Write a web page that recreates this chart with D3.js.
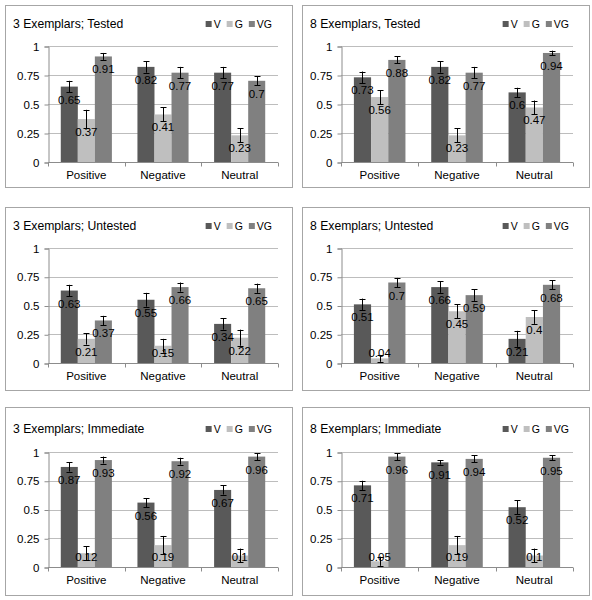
<!DOCTYPE html>
<html><head><meta charset="utf-8">
<script src="https://cdn.jsdelivr.net/npm/d3@7"></script>
<style>
html,body{margin:0;padding:0;background:#fff;}
svg{display:block;font-family:Arial,"Liberation Sans",sans-serif;}
</style></head>
<body>
<svg id="chart" width="592" height="600"></svg>
<script>
const categories = ["Positive", "Negative", "Neutral"];
const seriesNames = ["V", "G", "VG"];
const yTicks = [0, 0.25, 0.5, 0.75, 1];
const tickLabels = ["0", "0.25", "0.5", "0.75", "1"];
const panelTitles = [
  "3 Exemplars; Tested", "8 Exemplars, Tested",
  "3 Exemplars; Untested", "8 Exemplars; Untested",
  "3 Exemplars; Immediate", "8 Exemplars; Immediate"
];
// values[panel][category]
const valuesV  = [[0.65,0.82,0.77],[0.73,0.82,0.60],[0.63,0.55,0.34],[0.51,0.66,0.21],[0.87,0.56,0.67],[0.71,0.91,0.52]];
const valuesG  = [[0.37,0.41,0.23],[0.56,0.23,0.47],[0.21,0.15,0.22],[0.04,0.45,0.40],[0.12,0.19,0.10],[0.05,0.19,0.10]];
const valuesVG = [[0.91,0.77,0.70],[0.88,0.77,0.94],[0.37,0.66,0.65],[0.70,0.59,0.68],[0.93,0.92,0.96],[0.96,0.94,0.95]];
// error bar half-widths
const errV  = [[0.05,0.05,0.05],[0.05,0.05,0.04],[0.05,0.06,0.05],[0.05,0.05,0.07],[0.04,0.04,0.04],[0.04,0.02,0.06]];
const errG  = [[0.08,0.06,0.06],[0.06,0.06,0.06],[0.05,0.06,0.07],[0.03,0.06,0.06],[0.06,0.08,0.06],[0.04,0.08,0.06]];
const errVG = [[0.03,0.05,0.04],[0.03,0.05,0.02],[0.04,0.04,0.04],[0.04,0.05,0.04],[0.03,0.03,0.03],[0.03,0.03,0.02]];
const colors = ["#595959", "#bfbfbf", "#808080"];

const svg = d3.select("#chart");

// layout
const colX = [5, 302], panelW = 287;
const rowY = [5, 207, 407], rowH = [182, 183, 188];
const plotTop = [46, 248, 452], plotBottom = [162, 363, 567];
const plotLeft = [48, 341], plotRight = [278, 573];

const allVals = [valuesV, valuesG, valuesVG];
const allErr = [errV, errG, errVG];

panelTitles.forEach((title, p) => {
  const col = p % 2, row = Math.floor(p / 2);
  const px = colX[col], py = rowY[row];
  const g = svg.append("g");
  g.append("rect").attr("x", px + 0.5).attr("y", py + 0.5)
    .attr("width", panelW).attr("height", rowH[row])
    .attr("fill", "#fff").attr("stroke", "#a6a6a6").attr("stroke-width", 1);

  const y = d3.scaleLinear().domain([0, 1]).range([plotBottom[row], plotTop[row]]);
  const x = d3.scaleBand().domain(categories).range([plotLeft[col], plotRight[col]]).padding(0);
  const bw = x.bandwidth() / 4.5;
  const xs = d3.scaleBand().domain(seriesNames)
    .range([0.75 * bw, 3.75 * bw]).padding(0);

  // gridlines
  g.selectAll(".grid").data(yTicks.slice(1)).join("line")
    .attr("x1", plotLeft[col]).attr("x2", plotRight[col])
    .attr("y1", d => Math.round(y(d)) + 0.5).attr("y2", d => Math.round(y(d)) + 0.5)
    .attr("stroke", "#bdbdbd").attr("stroke-width", 1);

  // y axis
  const yAxis = d3.axisLeft(y).tickValues(yTicks).tickFormat((d, i) => tickLabels[i]).tickSize(4).tickPadding(5);
  const ya = g.append("g").attr("transform", `translate(${plotLeft[col] + 0.5},0.5)`).call(yAxis);
  ya.select(".domain").attr("stroke", "#8c8c8c");
  ya.selectAll(".tick line").attr("stroke", "#8c8c8c");
  ya.selectAll(".tick text").attr("font-size", "11.5px").attr("fill", "#000")
    .attr("font-family", "Arial, 'Liberation Sans', sans-serif");

  // x axis
  const xa = g.append("g").attr("transform", `translate(0,${plotBottom[row] + 0.5})`);
  xa.append("line").attr("x1", plotLeft[col]).attr("x2", plotRight[col])
    .attr("stroke", "#8c8c8c");
  const bounds = [plotLeft[col]].concat(categories.map(c => x(c) + x.bandwidth()));
  xa.selectAll(".xt").data(bounds).join("line")
    .attr("x1", d => Math.round(d) + 0.5).attr("x2", d => Math.round(d) + 0.5)
    .attr("y1", 0).attr("y2", 4).attr("stroke", "#8c8c8c");
  xa.selectAll(".xl").data(categories).join("text")
    .attr("x", d => x(d) + x.bandwidth() / 2).attr("y", 16)
    .attr("text-anchor", "middle").attr("font-size", "11.5px").text(d => d);

  // bars
  const data = [];
  seriesNames.forEach((s, si) => {
    categories.forEach((c, ci) => {
      data.push({s, si, c, v: allVals[si][p][ci], e: allErr[si][p][ci]});
    });
  });
  g.selectAll(".bar").data(data).join("rect")
    .attr("x", d => x(d.c) + xs(d.s))
    .attr("y", d => y(d.v))
    .attr("width", xs.bandwidth())
    .attr("height", d => y(0) - y(d.v))
    .attr("fill", d => colors[d.si]);

  // error bars
  const eb = g.selectAll(".eb").data(data).join("g")
    .attr("transform", d => `translate(${Math.round(x(d.c) + xs(d.s) + xs.bandwidth() / 2) + 0.5},0)`);
  eb.append("line").attr("x1", 0).attr("x2", 0)
    .attr("y1", d => y(d.v + d.e)).attr("y2", d => y(Math.max(0, d.v - d.e)))
    .attr("stroke", "#000").attr("stroke-width", 1);
  eb.append("line").attr("x1", -3).attr("x2", 3)
    .attr("y1", d => Math.round(y(d.v + d.e)) + 0.5).attr("y2", d => Math.round(y(d.v + d.e)) + 0.5)
    .attr("stroke", "#000");
  eb.filter(d => d.v - d.e > 0).append("line").attr("x1", -3).attr("x2", 3)
    .attr("y1", d => Math.round(y(d.v - d.e)) + 0.5).attr("y2", d => Math.round(y(d.v - d.e)) + 0.5)
    .attr("stroke", "#000");

  // labels (inside end, kept above the axis)
  g.selectAll(".lbl").data(data).join("text")
    .attr("x", d => x(d.c) + xs(d.s) + xs.bandwidth() / 2)
    .attr("y", d => Math.min(y(d.v) + 17, y(0) - 6))
    .attr("text-anchor", "middle").attr("font-size", "11.5px").attr("fill", "#000")
    .text(d => String(+d.v.toFixed(2)));

  // title
  const titleY = py + 23 + (row === 2 ? 3 : 0);
  g.append("text").attr("x", px + 8).attr("y", titleY)
    .attr("font-size", "12.2px").attr("fill", "#000").text(title);

  // legend
  const lg = g.append("g");
  let lx = px + panelW - 20;
  const items = seriesNames.map((s, i) => ({s, i})).reverse();
  items.forEach(it => {
    const t = lg.append("text").attr("y", titleY).attr("font-size", "10.5px").text(it.s);
    const w = t.node().getComputedTextLength();
    lx -= w;
    t.attr("x", lx);
    lg.append("rect").attr("x", lx - 8).attr("y", titleY - 7).attr("width", 6).attr("height", 6)
      .attr("fill", colors[it.i]);
    lx -= 14;
  });
});
</script>
</body></html>
